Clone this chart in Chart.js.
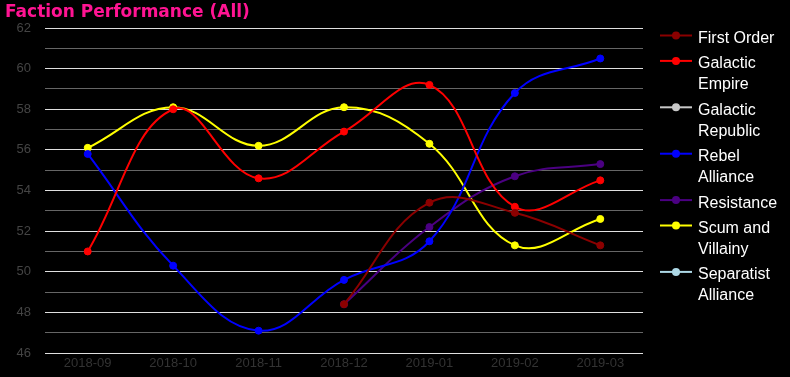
<!DOCTYPE html>
<html>
<head>
<meta charset="utf-8">
<script src="https://cdn.jsdelivr.net/npm/chart.js@4/dist/chart.umd.min.js"></script>
<style>
  body { margin: 0; background: #000; }
  #wrap { width: 790px; height: 377px; }
</style>
</head>
<body>
<div id="wrap"><canvas id="myChart" width="790" height="377"></canvas></div>
<script>
const months = ['2018-09', '2018-10', '2018-11', '2018-12', '2019-01', '2019-02', '2019-03'];

const firstOrder = [null, null, null, 48.4, 53.4, 52.9, 51.3];
const galacticEmpire = [51.0, 58.0, 54.6, 56.9, 59.2, 53.2, 54.5];
const galacticRepublic = [null, null, null, null, null, null, null];
const rebelAlliance = [55.8, 50.3, 47.1, 49.6, 51.5, 58.8, 60.5];
const resistance = [null, null, null, 48.4, 52.2, 54.7, 55.3];
const scumAndVillainy = [56.1, 58.1, 56.2, 58.1, 56.3, 51.3, 52.6];
const separatistAlliance = [null, null, null, null, null, null, null];

const yMin = 46;
const yMax = 62;

const factions = [
    { label: 'First Order', color: '#8b0000', values: firstOrder },
    { label: 'Galactic Empire', color: '#ff0000', values: galacticEmpire },
    { label: 'Galactic Republic', color: '#c8c8c8', values: galacticRepublic },
    { label: 'Rebel Alliance', color: '#0000ff', values: rebelAlliance },
    { label: 'Resistance', color: '#4b0082', values: resistance },
    { label: 'Scum and Villainy', color: '#ffff00', values: scumAndVillainy },
    { label: 'Separatist Alliance', color: '#add8e6', values: separatistAlliance },
];

const wrapText = (ctx, text, maxWidth) => {
    const words = text.split(' ');
    const lines = [];
    let line = '';
    words.forEach(w => {
        const test = line ? line + ' ' + w : w;
        if (line && ctx.measureText(test).width > maxWidth) {
            lines.push(line);
            line = w;
        } else {
            line = test;
        }
    });
    lines.push(line);
    return lines;
};

// side legend: line + dot swatch, labels wrapped onto two lines when long
const sideLegend = {
    id: 'sideLegend',
    afterDraw(chart) {
        const g = chart.ctx;
        const left = chart.chartArea.right + 17;
        const lineH = 21;
        let y = 38.5;
        g.save();
        g.font = '16px "Liberation Sans", Arial, sans-serif';
        g.textBaseline = 'middle';
        chart.data.datasets.forEach(ds => {
            const color = ds.borderColor;
            const sy = y - 3;
            g.strokeStyle = color;
            g.lineWidth = 2;
            g.beginPath();
            g.moveTo(left, sy);
            g.lineTo(left + 32, sy);
            g.stroke();
            g.fillStyle = color;
            g.beginPath();
            g.arc(left + 16, sy, 4, 0, Math.PI * 2);
            g.fill();
            g.fillStyle = '#ffffff';
            const lines = wrapText(g, ds.label, 82);
            lines.forEach((t, i) => g.fillText(t, left + 38, y + i * lineH));
            y += lines.length * lineH + 4.4;
        });
        g.restore();
    }
};

const ctx = document.getElementById('myChart').getContext('2d');
new Chart(ctx, {
    type: 'line',
    data: {
        labels: months,
        datasets: factions.map(f => ({
            label: f.label,
            data: f.values,
            borderColor: f.color,
            backgroundColor: f.color,
            borderWidth: 2,
            pointRadius: 3.5,
            pointBorderWidth: 1,
            pointBackgroundColor: f.color,
            tension: 0.4,
            fill: false,
        }))
    },
    plugins: [sideLegend],
    options: {
        responsive: false,
        animation: false,
        layout: { padding: { left: 5, right: 147, top: 0, bottom: 2.4 } },
        plugins: {
            title: {
                display: true,
                text: 'Faction Performance (All)',
                align: 'start',
                color: '#ff1493',
                font: { family: 'DejaVu Sans', size: 17, weight: 'bold' },
                padding: { top: 2, bottom: 5.6 },
            },
            legend: { display: false },
            tooltip: { enabled: false }
        },
        scales: {
            x: {
                offset: true,
                grid: { display: false, drawTicks: false },
                border: { display: false },
                ticks: {
                    color: '#333333',
                    font: { family: 'Liberation Sans', size: 13 },
                    padding: 3,
                }
            },
            y: {
                min: yMin,
                max: yMax,
                border: { display: false },
                afterFit: (s) => { s.width = 40; },
                grid: {
                    drawTicks: false,
                    color: (c) => (c.tick && c.tick.value % 2 === 0) ? '#e0e0e0' : '#666666',
                    lineWidth: 1,
                },
                ticks: {
                    stepSize: 1,
                    autoSkip: false,
                    color: '#444444',
                    padding: 14,
                    font: { family: 'Liberation Sans', size: 13 },
                    callback: (v) => v % 2 === 0 ? v : '',
                }
            }
        }
    }
});
</script>
</body>
</html>
